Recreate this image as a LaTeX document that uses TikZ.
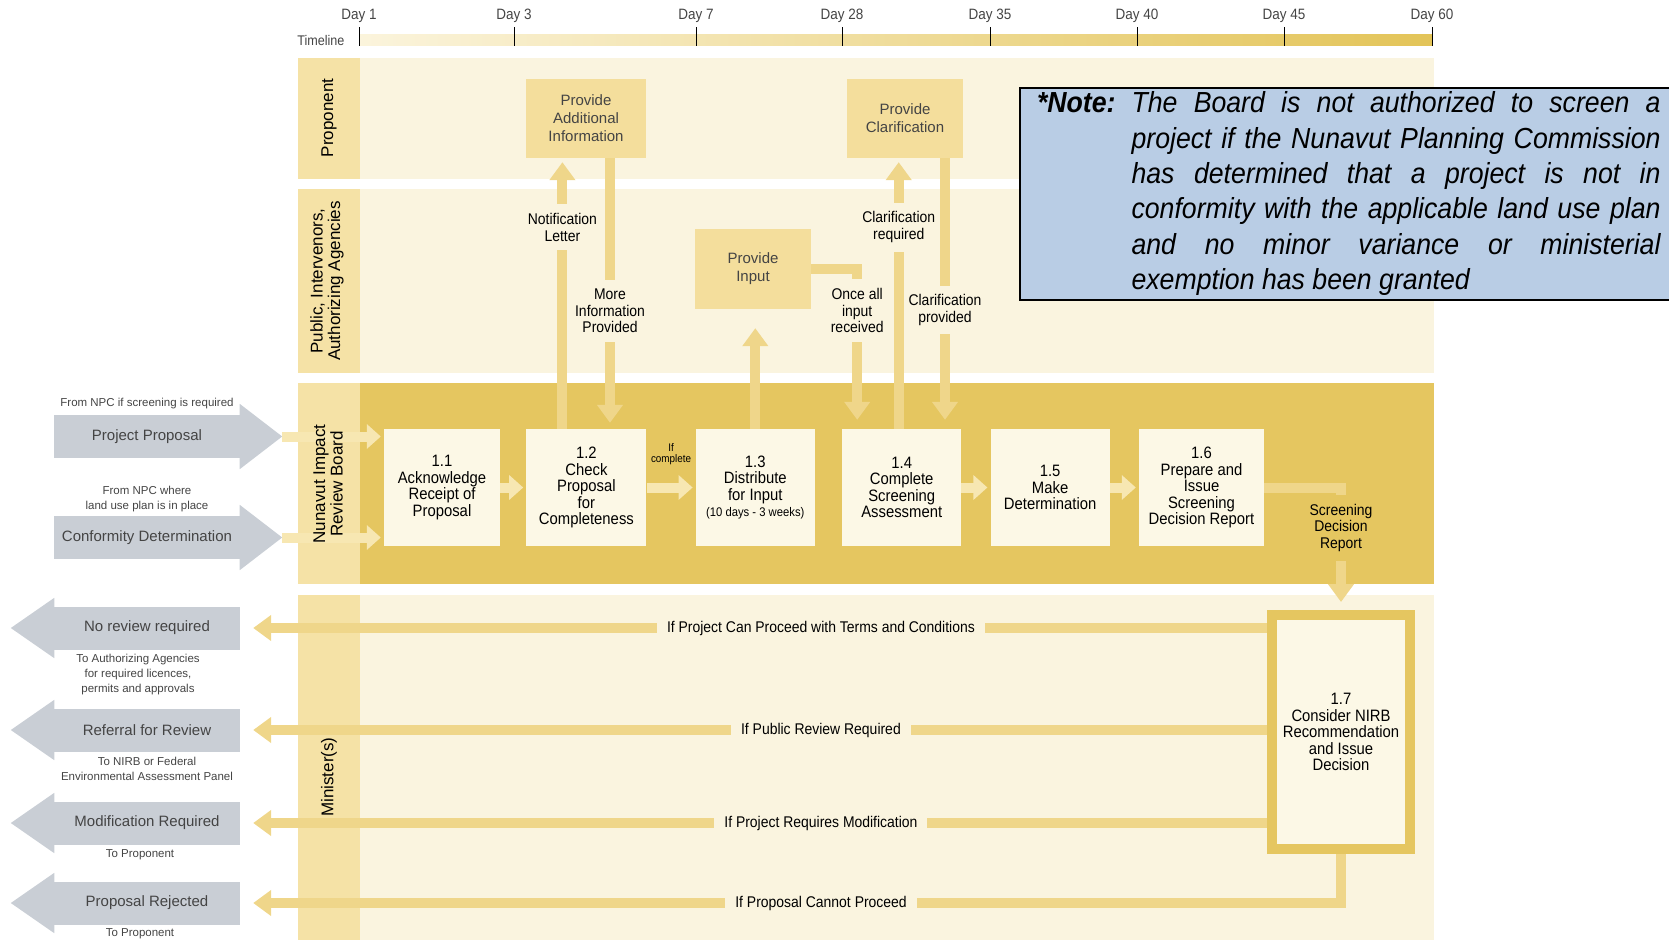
\documentclass[tikz,border=0pt]{standalone}
\usepackage{fontspec}
\setmainfont{Liberation Sans}[FakeStretch=0.9]
\newfontfamily\widesans{Liberation Sans}
\newfontfamily\notefont{Liberation Sans}[FakeStretch=0.92]
\usetikzlibrary{arrows.meta,positioning}
\definecolor{lanebg}{HTML}{FAF4DF}
\definecolor{headcol}{HTML}{F5E2A6}
\definecolor{nirbgold}{HTML}{E5C660}
\definecolor{propfill}{HTML}{F4DE9C}
\definecolor{procfill}{HTML}{FCF8E6}
\definecolor{flowgold}{HTML}{EFD68A}
\definecolor{flowpale}{HTML}{F7E7B2}
\definecolor{blockgrey}{HTML}{C9CED5}
\definecolor{notefill}{HTML}{B9CDE5}
\definecolor{softtext}{HTML}{444444}
\definecolor{tlstart}{HTML}{FBF4DC}
\definecolor{tlend}{HTML}{E3C458}
\newcommand{\laneEnd}[0]{1434}

\begin{document}
\begin{tikzpicture}[x=1pt, y=-1pt]
  \tikzset{
    procbox/.style={fill=procfill, minimum width=119pt, minimum height=117pt, inner sep=2pt, align=center, font=\fontsize{16.5}{16.5}\selectfont},
    propbox/.style={fill=propfill, minimum width=118pt, minimum height=79pt, align=center, text=softtext, font=\widesans\fontsize{15}{18}\selectfont},
    lbl/.style={fill=lanebg, align=center, inner xsep=2pt, inner ysep=9pt, font=\fontsize{15.5}{16.5}\selectfont},
    flowline/.style={line width=10pt, draw=flowgold, -{Triangle[width=25pt,length=18pt]}},
    shortflow/.style={line width=10pt, draw=flowpale, -{Triangle[width=24pt,length=14pt]}, shorten >=3pt},
    lanetitle/.style={rotate=90, align=center, font=\widesans\fontsize{17}{17.5}\selectfont},
    greybody/.style={fill=blockgrey, minimum width=186pt, minimum height=43pt, inner sep=0pt, text=softtext, font=\widesans\fontsize{15}{18}\selectfont},
    sublbl/.style={align=center, text=softtext, inner sep=0pt, font=\widesans\fontsize{11.5}{15}\selectfont},
    daylbl/.style={text=softtext, font=\fontsize{15}{15}\selectfont},
    notebox/.style={fill=notefill, draw=black, line width=2pt, inner xsep=17pt, inner ysep=0pt, minimum height=212pt, anchor=north west, font=\notefont\itshape\fontsize{29}{35.4}\selectfont}
  }
  \useasboundingbox (0,0) rectangle (1669,940);

  \shade[left color=tlstart, right color=tlend] (359,34) rectangle (1432,45);
  \node[daylbl, anchor=east, font=\fontsize{14}{14}\selectfont] (timeline) at (348,40) {Timeline};
  \foreach \x/\dnum in {359/1, 514/3, 696/7, 842/28, 990/35, 1137/40, 1284/45, 1432/60} {
    \draw[line width=0.8pt] (\x,27) -- (\x,46);
    \node[daylbl] (day\dnum) at (\x,16) {Day \dnum};
  }

  \foreach \ytop/\ybot/\bodycol in {58/179/lanebg, 189/373/lanebg, 383/584/nirbgold, 595/940/lanebg} {
    \fill[headcol] (298,\ytop) rectangle (360,\ybot);
    \fill[\bodycol] (360,\ytop) rectangle (\laneEnd,\ybot);
  }

  \foreach \y/\nm/\txt in {436.5/proposal/Project Proposal, 537.5/conform/Conformity Determination} {
    \node[greybody] (\nm) at (147,\y) {\txt};
    \fill[blockgrey] ([xshift=-0.5pt, yshift=11pt]\nm.north east) -- ([xshift=42pt]\nm.east) -- ([xshift=-0.5pt, yshift=-11pt]\nm.south east) -- cycle;
    \coordinate (\nm-tip) at ([xshift=42pt]\nm.east);
  }
  \node[sublbl, above=6pt of proposal] (fromnpc) {From NPC if screening is required};
  \node[sublbl, above=4pt of conform] (fromplan) {From NPC where\\land use plan is in place};

  \foreach \y/\nm/\txt in {628/noreview/No review required, 730/referral/Referral for Review, 823/modif/Modification Required, 903/rejected/Proposal Rejected} {
    \node[greybody] (\nm) at (147,\y) {\txt};
    \fill[blockgrey] ([xshift=0.5pt, yshift=8.5pt]\nm.north west) -- ([xshift=-43pt]\nm.west) -- ([xshift=0.5pt, yshift=-8.5pt]\nm.south west) -- cycle;
    \coordinate (\nm-end) at ([xshift=13pt]\nm.east);
  }
  \node[sublbl, below=4pt of noreview, xshift=-9pt] (toagency) {To Authorizing Agencies\\for required licences,\\permits and approvals};
  \node[sublbl, below=5pt of referral] (tonirb) {To NIRB or Federal\\Environmental Assessment Panel};
  \node[sublbl, below=5pt of modif, xshift=-7pt] (toprop) {To Proponent};
  \node[sublbl, below=4pt of rejected, xshift=-7pt] (torejected) {To Proponent};

  \node[propbox, minimum width=120pt] (addinfo) at (586,118.5) {Provide\\Additional\\Information};
  \node[propbox, minimum width=116pt] (clar) at (905,118.5) {Provide\\Clarification};
  \node[propbox, minimum width=116pt, minimum height=80pt] (inp) at (753,269) {Provide\\Input};

  \node[procbox, minimum width=116pt] (p11) at (442,487.5) {1.1\\Acknowledge\\Receipt of\\Proposal};
  \node[procbox, right=26pt of p11, minimum width=120pt] (p12) {1.2\\Check\\Proposal\\for\\Completeness};
  \node[procbox, right=49pt of p12] (p13) {1.3\\Distribute\\for Input\\{\fontsize{12.5}{16.5}\selectfont(10 days - 3 weeks)}};
  \node[procbox, right=27pt of p13] (p14) {1.4\\Complete\\Screening\\Assessment};
  \node[procbox, right=29pt of p14] (p15) {1.5\\Make\\Determination};
  \node[procbox, right=29pt of p15, minimum width=125pt] (p16) {1.6\\Prepare and\\Issue\\Screening\\Decision Report};
  \node[procbox, draw=nirbgold, line width=10pt, minimum width=138pt, minimum height=234pt] (p17) at (1341,732) {1.7\\Consider NIRB\\Recommendation\\and Issue\\Decision};

  \coordinate (notifbot) at ([xshift=-24pt]p12.north);
  \coordinate (moretop) at ([xshift=24pt]addinfo.south);
  \coordinate (oncebot) at ([xshift=-44.5pt]p14.north);
  \coordinate (reqbot) at ([xshift=-3pt]p14.north);
  \coordinate (provtop) at ([xshift=40pt]clar.south);

  \draw[flowline, shorten >=4pt] (notifbot) -- node[lbl, pos=0.745] (notiflbl) {Notification\\Letter} (notifbot |- addinfo.south);
  \draw[flowline, shorten >=6pt] (moretop) -- node[lbl, pos=0.565] (morelbl) {More\\Information\\Provided} (moretop |- p12.north);
  \draw[flowline, shorten >=19pt] (p13.north) -- (p13.north |- inp.south);
  \draw[flowline, shorten >=9pt] (inp.east) -| node[lbl, pos=0.63] (oncelbl) {Once all\\input\\received} (oncebot);
  \draw[flowline, shorten >=9pt] (provtop) -- node[lbl, pos=0.561] (provlbl) {Clarification\\provided} (provtop |- p14.north);
  \draw[flowline, shorten >=4pt] (reqbot) -- node[lbl, pos=0.745] (reqlbl) {Clarification\\required} (reqbot |- clar.south);

  \draw[shortflow] (proposal-tip) -- (proposal-tip -| p11.west);
  \draw[shortflow] (conform-tip) -- (conform-tip -| p11.west);
  \draw[shortflow] (p11) -- (p12);
  \draw[shortflow] (p12) -- node[above=18pt, inner sep=0pt, align=center, font=\fontsize{11}{11}\selectfont] (iflbl) {If\\complete} (p13);
  \draw[shortflow] (p14) -- (p15);
  \draw[shortflow] (p15) -- (p16);
  \draw[flowline, shorten >=8pt] (p16.east) -| node[lbl, fill=nirbgold, pos=0.665] (reportlbl) {Screening\\Decision\\Report} (p17.north);

  \draw[flowline] ([yshift=104pt]p17.west) -- node[lbl, inner xsep=10pt, pos=0.44] (termslbl) {If Project Can Proceed with Terms and Conditions} (noreview-end);
  \draw[flowline] ([yshift=2pt]p17.west) -- node[lbl, inner xsep=10pt, pos=0.44] (publbl) {If Public Review Required} (referral-end);
  \draw[flowline] ([yshift=-91pt]p17.west) -- node[lbl, inner xsep=10pt, pos=0.44] (modlbl) {If Project Requires Modification} (modif-end);
  \draw[flowline] (p17.south) |- node[lbl, inner xsep=10pt, pos=0.739] (cannotlbl) {If Proposal Cannot Proceed} (rejected-end);

  \node[lanetitle] (tprop) at (329,118) {Proponent};
  \node[lanetitle] (tpub) at (327,281) {Public, Intervenors,\\Authorizing Agencies};
  \node[lanetitle] (tnirb) at (328,484) {Nunavut Impact\\Review Board};
  \node[lanetitle] (tmin) at (329,777) {Minister(s)};

  \node[notebox] (note) at (1019,87) {\begin{tabular}{@{}l@{\hspace{16pt}}p{529pt}@{}}
    \textbf{*Note:} & \tolerance=9999\hyphenpenalty=10000 The Board is not authorized to screen a\linebreak project if the Nunavut Planning Commission\linebreak has determined that a project is not in\linebreak conformity with the applicable land use plan\linebreak and no minor variance or ministerial\linebreak exemption has been granted
  \end{tabular}};
\end{tikzpicture}
\end{document}
